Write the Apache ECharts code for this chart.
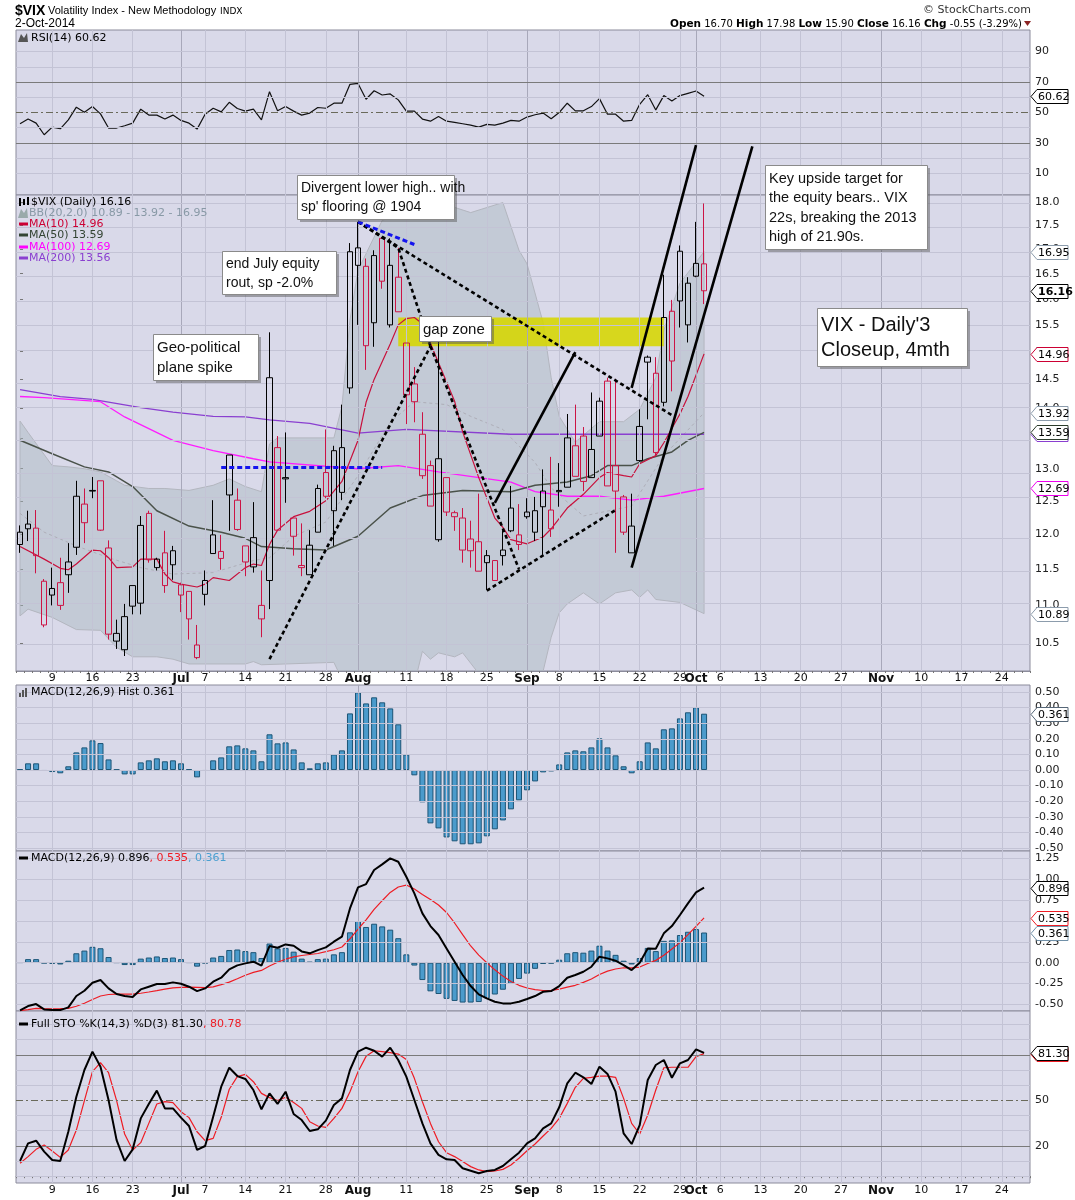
<!DOCTYPE html>
<html><head><meta charset="utf-8">
<script src="https://cdn.jsdelivr.net/npm/echarts@6/dist/echarts.min.js"></script>
<style>html,body{margin:0;padding:0;background:#fff}#c{width:1075px;height:1200px}</style>
</head><body><div id="c"></div>
<script>
// ===================== DATA =====================
// trading-day categories (Jun 3 - Nov 28 2014, exchange holidays removed)
const holidays = ['7/4', '9/1', '11/27'];
const dates = [];
for (let d = new Date(2014, 5, 3); d <= new Date(2014, 10, 28); d.setDate(d.getDate() + 1)) {
  const k = (d.getMonth() + 1) + '/' + d.getDate();
  if (d.getDay() % 6 !== 0 && holidays.indexOf(k) < 0) dates.push(k);
}
const xTickLabels = [['6/9','9'],['6/16','16'],['6/23','23'],['7/1','Jul'],['7/7','7'],['7/14','14'],['7/21','21'],['7/28','28'],['8/1','Aug'],['8/11','11'],['8/18','18'],['8/25','25'],['9/2','Sep'],['9/8','8'],['9/15','15'],['9/22','22'],['9/29','29'],['10/1','Oct'],['10/6','6'],['10/13','13'],['10/20','20'],['10/27','27'],['11/3','Nov'],['11/10','10'],['11/17','17'],['11/24','24']];
const monthNames = ['Jul', 'Aug', 'Sep', 'Oct', 'Nov'];

const opens = [12.03,12.15,12.09,11.33,11.23,11.31,11.42,11.81,12.45,12.66, 12.81,11.80,10.53,10.42,11.27,11.03,12.31,11.52,11.73,11.76, 11.28,11.19,10.48,11.15,11.72,11.75,13.22,12.51,11.60,11.53, 10.82,11.34,13.34,12.86,11.97,11.55,11.42,12.03,12.94,12.35, 12.63,14.35,16.67,16.65,15.54,17.23,15.50,16.43,15.16,14.42, 13.56,13.05,11.92,12.86,12.26,12.24,11.93,11.89,11.59,11.34, 11.69,12.39,11.85,12.33,12.03,12.41,12.36,12.66,12.71,13.37, 13.53,12.86,13.53,14.47,13.05,12.56,11.73,13.13,14.81,14.61, 14.10,15.76,16.96,15.50,16.45,16.70];
const highs = [12.13,12.35,12.36,11.36,11.52,11.66,11.87,12.81,12.69,12.87, 12.81,11.91,10.81,11.02,11.27,12.27,12.35,11.66,12.05,11.83, 11.31,11.19,10.74,11.48,12.51,11.99,13.22,12.69,11.83,12.48, 11.48,15.36,13.53,13.59,12.24,12.16,12.06,12.75,13.64,13.37, 14.06,17.13,17.58,16.81,16.98,17.25,17.23,17.03,15.16,14.72, 13.93,13.13,15.22,12.86,12.35,12.39,12.20,12.61,11.77,11.62, 12.06,12.73,12.45,12.54,12.56,12.99,13.19,13.09,13.90,14.06, 13.68,14.27,14.18,14.53,14.51,12.59,12.61,13.98,14.93,14.90, 16.48,15.98,17.08,16.43,17.58,17.98];
const lows = [11.73,11.90,11.44,10.71,11.00,10.94,11.17,11.70,11.87,12.54, 12.05,10.55,10.43,10.34,10.88,10.88,11.59,11.48,11.17,11.35, 10.91,10.55,10.30,11.00,11.72,11.49,12.05,12.05,11.40,11.45, 10.58,10.95,12.05,12.47,11.69,11.40,11.42,12.03,12.54,11.83, 12.51,14.25,15.50,14.67,15.09,16.20,15.45,15.75,13.73,13.76, 12.84,12.42,11.89,12.27,12.05,11.59,11.52,11.47,11.21,11.34, 11.55,12.03,11.77,12.23,11.90,11.70,11.96,12.41,12.71,12.88, 12.65,12.86,13.53,12.73,11.73,11.99,11.73,13.11,13.81,13.21, 14.03,14.29,15.45,15.17,16.43,15.90];
const closes = [11.85,12.08,11.69,10.74,11.14,11.00,11.60,12.57,12.17,12.65, 12.06,10.62,10.63,10.85,10.99,12.13,11.63,11.64,11.27,11.56, 11.14,10.82,10.32,11.34,11.99,11.65,12.59,12.07,11.83,11.95, 11.00,14.53,12.06,12.84,12.24,11.52,11.84,12.69,12.57,13.29, 13.34,16.95,17.03,15.11,16.87,16.35,16.67,15.75,14.23,14.11, 12.89,12.42,13.16,12.33,12.32,11.77,11.76,11.47,11.69,11.62, 11.77,12.05,11.99,12.26,12.35,12.65,12.08,12.64,13.50,12.88, 12.80,13.31,14.12,12.73,12.65,12.03,12.12,13.69,14.90,13.26, 15.64,14.83,15.96,16.31,16.71,16.16];

const ma10 = [['6/3',11.82],['6/6',11.64],['6/10',11.51],['6/11',11.49],['6/12',11.57],['6/16',11.77],['6/17',11.76],['6/18',11.66],['6/19',11.52],['6/23',11.53],['6/24',11.64],['6/26',11.64],['6/27',11.43],['6/30',11.32],['7/1',11.29],['7/3',11.25],['7/7',11.29],['7/8',11.38],['7/10',11.34],['7/14',11.52],['7/15',11.57],['7/16',11.55],['7/17',11.85],['7/18',12.06],['7/22',12.26],['7/24',12.34],['7/28',12.50],['7/30',12.80],['8/1',13.46],['8/4',14.10],['8/5',14.50],['8/7',15.14],['8/8',15.50],['8/11',15.62],['8/12',15.64],['8/13',15.52],['8/15',14.80],['8/19',14.12],['8/20',13.60],['8/22',12.86],['8/26',12.24],['8/27',12.10],['8/28',11.92],['9/2',11.86],['9/4',11.96],['9/5',12.08],['9/9',12.39],['9/11',12.60],['9/15',12.86],['9/16',12.94],['9/18',12.89],['9/19',12.87],['9/22',13.08],['9/24',13.21],['9/25',13.42],['9/29',13.90],['9/30',14.20],['10/2',14.96]];
const ma50 = [['6/3',13.46],['6/9',13.24],['6/13',13.03],['6/18',12.95],['6/23',12.72],['6/26',12.35],['7/2',12.12],['7/9',12.03],['7/14',11.94],['7/16',11.82],['7/22',11.79],['7/28',11.77],['8/1',11.97],['8/7',12.39],['8/13',12.58],['8/20',12.66],['8/28',12.64],['9/3',12.74],['9/9',12.79],['9/12',12.89],['9/16',13.05],['9/19',13.05],['9/23',13.16],['9/26',13.27],['9/30',13.46],['10/2',13.59]];
const ma100 = [['6/3',14.20],['6/6',14.18],['6/17',14.11],['6/20',13.85],['6/30',13.46],['7/8',13.29],['7/15',13.16],['7/17',13.11],['8/1',13.00],['8/8',13.05],['8/15',12.95],['8/28',12.79],['9/3',12.64],['9/9',12.57],['9/15',12.57],['9/19',12.51],['9/25',12.57],['10/2',12.69]];
const ma200 = [['6/3',14.32],['6/10',14.20],['6/16',14.15],['6/24',14.01],['6/30',13.93],['7/8',13.86],['7/14',13.85],['7/17',13.80],['7/24',13.74],['8/1',13.58],['8/11',13.64],['8/28',13.56],['9/15',13.56],['10/2',13.56]];
const bbMid = [['6/3',12.31],['6/6',12.03],['6/12',11.83],['6/18',11.66],['6/24',11.52],['6/30',11.43],['7/8',11.45],['7/15',11.62],['7/17',11.66],['7/22',11.97],['7/28',12.18],['8/1',12.89],['8/7',13.76],['8/12',14.11],['8/18',14.06],['8/21',13.86],['8/27',13.64],['9/3',13.10],['9/5',12.70],['9/11',12.27],['9/19',12.42],['9/25',13.21],['10/2',13.92]];
const bbUpper = [['6/3',13.78],['6/4',13.59],['6/9',13.05],['6/11',13.03],['6/13',13.00],['6/17',12.95],['6/19',12.81],['6/20',12.74],['6/25',12.69],['6/27',12.69],['7/2',12.66],['7/8',12.74],['7/10',12.84],['7/14',12.72],['7/16',12.64],['7/17',13.40],['7/18',13.50],['7/29',13.50],['7/30',14.03],['7/31',15.59],['8/1',16.57],['8/6',17.61],['8/11',17.80],['8/18',17.95],['8/21',17.78],['8/27',18.00],['8/29',16.98],['9/2',16.70],['9/4',15.54],['9/5',14.53],['9/8',13.86],['9/10',13.43],['9/15',13.77],['9/18',13.77],['9/22',13.98],['9/24',14.53],['9/25',15.40],['9/29',16.31],['10/2',16.95]];
const bbLower = [['6/3',10.86],['6/4',10.95],['6/9',10.84],['6/12',10.68],['6/17',10.67],['6/19',10.45],['6/23',10.33],['6/26',10.33],['6/30',10.30],['7/2',10.24],['7/14',10.24],['7/15',10.27],['7/16',10.23],['7/29',10.26],['7/30',10.05],['7/31',9.70],['8/5',9.40],['8/11',9.60],['8/13',10.40],['8/14',10.30],['8/15',10.38],['8/19',10.33],['8/20',10.38],['8/22',10.12],['8/25',9.90],['8/28',9.80],['9/2',9.90],['9/4',10.15],['9/5',10.58],['9/8',10.90],['9/9',11.02],['9/11',11.17],['9/15',11.02],['9/17',11.17],['9/19',11.21],['9/22',11.11],['9/23',11.21],['9/24',11.08],['9/29',11.04],['10/2',10.89]];

const rsi = [42.6,45.7,43.0,35.4,40.4,39.3,45.2,53.5,50.2,53.9, 49.1,39.8,39.8,41.3,43.0,52.2,48.3,48.3,45.7,48.3, 44.8,43.0,39.1,48.9,52.8,50.4,56.7,52.6,50.9,52.2, 45.2,63.7,51.1,53.9,50.9,48.3,49.6,53.3,52.8,56.1, 56.1,68.5,69.1,58.7,64.3,61.5,62.2,58.3,50.9,50.9, 45.7,44.3,47.4,44.3,43.5,42.6,41.7,40.4,42.2,41.7, 43.0,44.8,44.3,47.0,48.5,49.6,45.9,50.0,56.1,51.1, 51.1,53.9,59.1,48.9,48.9,44.3,44.8,55.4,61.7,51.7, 61.1,57.6,61.1,62.6,64.1,60.62];
const macdHist = [0.004,0.043,0.043,-0.006,-0.013,-0.021,0.024,0.113,0.145,0.190, 0.173,0.068,0.003,-0.028,-0.028,0.049,0.062,0.075,0.056,0.062, 0.043,0.004,-0.047,-0.006,0.062,0.081,0.152,0.158,0.139,0.126, 0.056,0.229,0.171,0.177,0.132,0.049,0.011,0.043,0.049,0.100, 0.126,0.363,0.498,0.427,0.466,0.434,0.395,0.293,0.100,-0.034, -0.207,-0.342,-0.374,-0.432,-0.457,-0.476,-0.476,-0.470,-0.425,-0.380, -0.323,-0.252,-0.194,-0.130,-0.073,-0.015,-0.009,0.036,0.113,0.126, 0.120,0.145,0.203,0.145,0.094,0.024,-0.021,0.056,0.177,0.139, 0.261,0.267,0.331,0.370,0.402,0.361];
const macdLine = [-0.570,-0.518,-0.494,-0.558,-0.566,-0.566,-0.534,-0.398,-0.335,-0.239, -0.207,-0.307,-0.374,-0.398,-0.410,-0.319,-0.287,-0.255,-0.255,-0.235, -0.251,-0.287,-0.339,-0.307,-0.227,-0.179,-0.080,-0.032,-0.008,0.012, -0.036,0.199,0.179,0.219,0.203,0.135,0.112,0.151,0.183,0.251, 0.311,0.649,0.900,0.940,1.108,1.175,1.247,1.207,1.028,0.829, 0.590,0.438,0.331,0.171,0.012,-0.147,-0.279,-0.378,-0.426,-0.466, -0.486,-0.486,-0.466,-0.434,-0.398,-0.347,-0.339,-0.279,-0.179,-0.147, -0.108,-0.048,0.072,0.052,0.024,-0.028,-0.088,0.000,0.171,0.167, 0.351,0.438,0.570,0.709,0.841,0.896];
const macdSignal = [-0.572,-0.561,-0.545,-0.548,-0.550,-0.548,-0.545,-0.520,-0.485,-0.440, -0.398,-0.380,-0.375,-0.375,-0.375,-0.365,-0.350,-0.333,-0.315,-0.300, -0.294,-0.292,-0.294,-0.297,-0.289,-0.262,-0.232,-0.192,-0.150,-0.116, -0.092,-0.040,0.005,0.042,0.070,0.086,0.098,0.110,0.132,0.155, 0.188,0.286,0.402,0.513,0.638,0.741,0.840,0.905,0.928,0.880, 0.815,0.755,0.690,0.600,0.475,0.335,0.200,0.090,0.000,-0.085, -0.160,-0.225,-0.270,-0.302,-0.322,-0.332,-0.330,-0.315,-0.292,-0.270, -0.235,-0.195,-0.140,-0.100,-0.075,-0.060,-0.062,-0.052,-0.010,0.028, 0.090,0.165,0.240,0.335,0.435,0.535];
const stoK = [10.0,21.6,23.4,16.2,10.7,10.0,29.3,52.4,70.0,82.1, 72.2,50.2,23.8,10.0,17.7,38.1,47.6,56.4,44.7,44.7, 38.6,33.1,17.3,19.9,39.2,59.0,71.5,66.0,64.1,56.8, 44.1,54.6,47.6,55.7,41.0,37.0,29.8,30.9,36.6,46.9, 51.3,70.0,82.1,84.7,82.7,78.8,84.7,76.6,65.6,50.2, 34.8,21.6,14.0,11.1,10.7,5.2,3.6,1.9,3.4,4.1, 6.7,11.1,15.5,21.6,24.9,31.5,34.8,45.4,61.2,68.2, 65.2,60.8,72.2,67.4,55.7,28.2,21.2,33.7,63.4,73.3, 76.6,64.9,74.4,76.6,83.6,81.30];
const stoD = [8.5,12.9,17.7,20.5,16.6,12.4,17.3,30.4,49.8,68.9, 74.8,68.2,49.8,27.8,17.3,22.1,34.8,47.6,49.1,48.5, 42.5,38.6,29.3,23.4,24.9,38.8,57.3,65.6,67.1,62.3, 54.6,51.8,49.8,52.0,48.5,44.7,35.9,33.1,32.2,38.1, 44.7,55.7,68.9,79.0,82.7,82.1,81.4,80.5,77.0,64.5, 49.1,34.8,22.7,15.5,12.9,9.6,6.3,4.1,3.0,3.4, 4.5,7.4,11.8,16.8,21.2,26.5,31.5,38.1,48.0,58.6, 64.5,65.2,66.0,66.0,65.2,51.3,34.8,27.8,40.3,56.8, 71.5,71.8,71.8,71.8,78.8,80.78];

// axis tick labels
const priceTicks = [10.5,11.0,11.5,12.0,12.5,13.0,13.5,14.0,14.5,15.0,15.5,16.0,16.5,17.0,17.5,18.0];
const rsiTicks = [10,30,50,70,90];
const rsiGrid = [10,20,40,60,80,90];
const histTicks = [-0.5,-0.4,-0.3,-0.2,-0.1,0,0.1,0.2,0.3,0.4,0.5];
const macdTicks = [-0.5,-0.25,0,0.25,0.5,0.75,1.0,1.25];
const stoTicks = [20,50,80];
const stoGrid = [0,10,30,40,60,70,90,100];

// hand-drawn annotations (date, price)
const gapZone = [['8/8', 15.64], ['9/25', 15.10]];
const dashedLines = [
  [['7/17',10.3],['8/14',15.1]],
  [['8/14',15.1],['8/29',11.5]],
  [['8/1',17.58],['8/8',17.03],['8/14',15.1]],
  [['8/1',17.58],['9/26',13.88]],
  [['8/25',11.2],['9/17',12.36]]
];
const blueLines = [[['8/1',17.58],['8/12',17.1]], [['7/9',13.02],['8/6',13.02]]];
const solidLines = [[['8/26',12.47],['9/10',14.99]], [['9/19',14.35],['10/1',19.31]], [['9/19',11.52],['10/10',19.28]]];

const notes = [
  {box:[297,175,157,44], fs:14, lh:19, lines:['Divergent lower high.. with', "sp' flooring @ 1904"]},
  {box:[222,251,114,43], fs:14, lh:19, lines:['end July equity', 'rout, sp -2.0%']},
  {box:[153,334,105,46], fs:15, lh:20, lines:['Geo-political', 'plane spike']},
  {box:[419,316,72,25], fs:15, lh:20, lines:['gap zone']},
  {box:[765,165,162,84], fs:14.5, lh:19.3, lines:['Key upside target for', 'the equity bears.. VIX', '22s, breaking the 2013', 'high of 21.90s.']},
  {box:[817,308,150,58], fs:20, lh:25, lines:["VIX - Daily'3", 'Closeup, 4mth']}
];

// ===================== CHART =====================
const ln = Math.log;
const idx = d => dates.indexOf(d);
const last = a => { const v = a[a.length - 1]; return Array.isArray(v) ? v[1] : v; };
const N = dates.length;
const tickMap = {}; xTickLabels.forEach(([d, l]) => tickMap[d] = l);
const FONT = '"DejaVu Sans", Verdana, sans-serif';
const ANN = '"Liberation Sans", Arial, sans-serif';

const gridDefs = [{top:30,height:165},{top:195,height:476},{top:685,height:166},{top:851,height:160},{top:1011,height:172}];
const grid = gridDefs.map(g => ({left:16, right:45, top:g.top, height:g.height, show:true, backgroundColor:'#d9d9e9', borderColor:'#8b8b9b', borderWidth:1}));

const xAxis = [];
for (let k = 0; k < 5; k++) {
  const showLab = (k === 1 || k === 4);
  xAxis.push({type:'category', gridIndex:k, data:dates, boundaryGap:true, show:true,
    axisLine:{show:showLab, lineStyle:{color:'#8b8b9b'}},
    axisTick:{show:showLab, interval:0, length:2, lineStyle:{color:'#777'}},
    axisLabel:{show:showLab, interval:(i, v) => tickMap[v] !== undefined,
      formatter: v => monthNames.indexOf(tickMap[v]) >= 0 ? '{b|' + tickMap[v] + '}' : tickMap[v],
      rich:{b:{fontWeight:'bold', fontSize:12, fontFamily:FONT, color:'#111'}},
      fontSize:11, fontFamily:FONT, color:'#111', margin:2},
    splitLine:{show:false}});
}
for (let k = 0; k < 5; k++) xAxis.push({type:'value', gridIndex:k, min:-0.5, max:N - 0.5, show:false});

function yAx(k, min, max, ticks, fmt) {
  return {type:'value', gridIndex:k, position:'right', min, max, scale:true,
    axisLine:{show:false}, splitLine:{show:false},
    axisTick:{show:true, customValues:ticks, length:3, lineStyle:{color:'#777'}},
    axisLabel:{show:true, customValues:ticks, formatter:fmt, fontSize:11, fontFamily:FONT, color:'#222', margin:5}};
}
const yAxis = [
  yAx(0, -4.2, 104.2, rsiTicks, v => String(Math.round(v))),
  yAx(1, 2.3177, 2.8996, priceTicks.map(ln), v => Math.exp(v).toFixed(1)),
  yAx(2, -0.519, 0.545, histTicks, v => v.toFixed(2)),
  yAx(3, -0.577, 1.335, macdTicks, v => v.toFixed(2)),
  yAx(4, -4.5, 108.9, stoTicks, v => String(Math.round(v)))
];

const series = [];
const LIGHT = '#c3c3d5', MONTH = '#a8a8ba', DARK = '#7a7a7a';
function gridLines(k, hl) {
  const data = xTickLabels.map(([d, l]) => ({xAxis: idx(d), lineStyle:{color: monthNames.indexOf(l) >= 0 ? MONTH : LIGHT, width:1, type:'solid'}}));
  hl.forEach(h => data.push({yAxis: h[0], lineStyle:{color:h[1] || LIGHT, width:1, type:h[2] || 'solid'}}));
  series.push({type:'line', xAxisIndex:5 + k, yAxisIndex:k, data:[], z:1, silent:true, animation:false,
    markLine:{silent:true, symbol:['none','none'], label:{show:false}, animation:false, data}});
}
const DASHDOT = [7,3,2,3];
gridLines(0, rsiGrid.map(v => [v]).concat([[30, DARK], [70, DARK], [50, '#6a6a5a', DASHDOT]]));
gridLines(1, priceTicks.map(p => [ln(p)]));
gridLines(2, histTicks.map(v => [v]));
gridLines(3, macdTicks.map(v => [v]));
gridLines(4, stoGrid.map(v => [v]).concat([[20, DARK], [80, DARK], [50, '#6a6a5a', DASHDOT]]));

// Bollinger band area
series.push({type:'custom', xAxisIndex:6, yAxisIndex:1, clip:true, z:2, silent:true, animation:false, data:[[0, 2.5]],
  renderItem:(p, api) => {
    const pts = [];
    bbUpper.forEach(([d, v]) => pts.push(api.coord([idx(d), ln(v)])));
    bbLower.slice().reverse().forEach(([d, v]) => pts.push(api.coord([idx(d), ln(v)])));
    return {type:'polygon', shape:{points:pts}, style:{fill:'rgba(168,184,190,0.45)', stroke:'#b3b6bf', lineWidth:1}};
  }});
// gap zone
series.push({type:'custom', xAxisIndex:6, yAxisIndex:1, clip:true, z:3, silent:true, animation:false, data:[[0, 2.5]],
  renderItem:(p, api) => {
    const a = api.coord([idx(gapZone[0][0]), ln(gapZone[0][1])]);
    const b = api.coord([idx(gapZone[1][0]), ln(gapZone[1][1])]);
    return {type:'rect', shape:{x:a[0], y:a[1], width:b[0] - a[0], height:b[1] - a[1]}, style:{fill:'rgba(214,214,0,0.88)'}};
  }});
function maLine(arr, color, width, type) {
  series.push({type:'line', xAxisIndex:6, yAxisIndex:1, data:arr.map(([d, v]) => [idx(d), ln(v)]), symbol:'none', z:4,
    silent:true, animation:false, lineStyle:{color, width, type:type || 'solid'}});
}
maLine(bbMid, '#aeaeb8', 1, [3,3]);
maLine(ma200, '#8a3fd0', 1.3);
maLine(ma100, '#ff1cff', 1.3);
maLine(ma50, '#4a524a', 1.5);
maLine(ma10, '#c8103c', 1.2);

// candles
const candleData = opens.map((o, i) => {
  const c = closes[i];
  const col = (i === 0 || c >= closes[i - 1]) ? '#000000' : '#cc1445';
  return {value:[ln(o), ln(c), ln(lows[i]), ln(highs[i])],
    itemStyle:{color:'rgba(0,0,0,0)', color0:col, borderColor:col, borderColor0:col, borderColorDoji:col, borderWidth:1}};
});
series.push({type:'candlestick', xAxisIndex:1, yAxisIndex:1, data:candleData, barWidth:6, z:5, silent:true, animation:false});

// trendlines
function trend(pts, style) {
  series.push({type:'line', xAxisIndex:6, yAxisIndex:1, data:pts.map(([d, v]) => [idx(d), ln(v)]), symbol:'none', clip:false,
    z:8, silent:true, animation:false, lineStyle:style});
}
dashedLines.forEach(l => trend(l, {color:'#000', width:2.6, type:[4,3]}));
blueLines.forEach(l => trend(l, {color:'#1414ee', width:3, type:[5,3]}));
solidLines.forEach(l => trend(l, {color:'#000', width:2.6}));

// indicators
series.push({type:'line', xAxisIndex:0, yAxisIndex:0, data:rsi, symbol:'none', z:4, silent:true, animation:false, lineStyle:{color:'#111', width:1.2}});
const barStyle = {color:'#4b9bcc', borderColor:'#1c5576', borderWidth:1};
series.push({type:'bar', xAxisIndex:2, yAxisIndex:2, data:macdHist, barWidth:6, z:4, silent:true, animation:false, itemStyle:barStyle});
series.push({type:'bar', xAxisIndex:3, yAxisIndex:3, data:macdHist, barWidth:6, z:3, silent:true, animation:false, itemStyle:barStyle});
series.push({type:'line', xAxisIndex:3, yAxisIndex:3, data:macdSignal, symbol:'none', z:4, silent:true, animation:false, lineStyle:{color:'#ee1c24', width:1.2}});
series.push({type:'line', xAxisIndex:3, yAxisIndex:3, data:macdLine, symbol:'none', z:5, silent:true, animation:false, lineStyle:{color:'#000', width:2}});
series.push({type:'line', xAxisIndex:4, yAxisIndex:4, data:stoD, symbol:'none', z:4, silent:true, animation:false, lineStyle:{color:'#ee1c24', width:1.2}});
series.push({type:'line', xAxisIndex:4, yAxisIndex:4, data:stoK, symbol:'none', z:5, silent:true, animation:false, lineStyle:{color:'#000', width:2}});

// right-edge value tags
function tags(k, items) {
  series.push({type:'custom', xAxisIndex:5 + k, yAxisIndex:k, clip:false, z:20, silent:true, animation:false,
    data:items.map((it, i) => [N - 0.5, it.y, i]),
    renderItem:(p, api) => {
      const it = items[api.value(2)];
      const c = api.coord([api.value(0), api.value(1)]);
      const x = c[0] + 1, y = Math.round(c[1]) + 0.5;
      return {type:'group', children:[
        {type:'polygon', shape:{points:[[x, y], [x + 6, y - 7], [x + 37, y - 7], [x + 37, y + 7], [x + 6, y + 7]]}, style:{fill:'#fff', stroke:it.c, lineWidth:1}},
        {type:'text', style:{text:it.t, x:x + 7, y:y + 0.5, verticalAlign:'middle', align:'left', font:(it.b ? 'bold ' : '') + '11px ' + FONT, fill:'#000'}}
      ]};
    }});
}
const GRAYTAG = '#8c9cac';
tags(0, [{y:last(rsi), t:last(rsi).toFixed(2), c:'#000'}]);
tags(1, [
  {y:ln(last(bbUpper)), t:last(bbUpper).toFixed(2), c:GRAYTAG},
  {y:ln(last(closes)), t:last(closes).toFixed(2), c:'#000', b:true},
  {y:ln(last(ma10)), t:last(ma10).toFixed(2), c:'#cc0033'},
  {y:ln(last(bbMid)), t:last(bbMid).toFixed(2), c:GRAYTAG},
  {y:ln(last(ma200)), t:last(ma200).toFixed(2), c:'#8a3fd0'},
  {y:ln(last(ma50)), t:last(ma50).toFixed(2), c:'#2c3c2c'},
  {y:ln(last(ma100)), t:last(ma100).toFixed(2), c:'#ee00ee'},
  {y:ln(last(bbLower)), t:last(bbLower).toFixed(2), c:GRAYTAG}
]);
tags(2, [{y:last(macdHist), t:last(macdHist).toFixed(3), c:'#556677'}]);
tags(3, [
  {y:last(macdLine), t:last(macdLine).toFixed(3), c:'#000'},
  {y:last(macdSignal), t:last(macdSignal).toFixed(3), c:'#ee1c24'},
  {y:last(macdHist), t:last(macdHist).toFixed(3), c:'#7090a8'}
]);
tags(4, [
  {y:last(stoD), t:last(stoD).toFixed(2), c:'#ee1c24'},
  {y:last(stoK), t:last(stoK).toFixed(2), c:'#000'}
]);

// ===================== TEXT / GRAPHICS =====================
const G = [];
function txt(x, y, text, font, fill, extra) {
  G.push({type:'text', x, y, z:100, silent:true, style:Object.assign({text, font, fill:fill || '#000', verticalAlign:'middle', align:'left'}, extra || {})});
}
function dash(x, y, color) { G.push({type:'rect', z:100, silent:true, shape:{x, y:y - 1.5, width:9, height:3}, style:{fill:color}}); }
const chg = last(closes) - closes[closes.length - 2];
txt(15, 11, '$VIX', 'bold 14px ' + ANN);
txt(48, 11, 'Volatility Index - New Methodology', '11px ' + ANN);
txt(220, 12, 'INDX', '9px ' + FONT);
txt(15, 24, '2-Oct-2014', '12px ' + ANN);
txt(1031, 10, '\u00A9 StockCharts.com', '11px ' + FONT, '#333', {align:'right'});
txt(1022, 24, '{b|Open} ' + last(opens).toFixed(2) + ' {b|High} ' + last(highs).toFixed(2) + ' {b|Low} ' + last(lows).toFixed(2) +
  ' {b|Close} ' + last(closes).toFixed(2) + ' {b|Chg} ' + chg.toFixed(2) + ' (' + (chg / closes[closes.length - 2] * 100).toFixed(2) + '%)',
  '10px ' + FONT, '#000', {align:'right', rich:{b:{fontWeight:'bold', fontSize:10.5, fontFamily:FONT, fill:'#000'}}});
G.push({type:'polygon', z:100, silent:true, shape:{points:[[1024, 21], [1031, 21], [1027.5, 26]]}, style:{fill:'#8b2424'}});

// panel legends
G.push({type:'polygon', z:100, silent:true, shape:{points:[[18, 42], [21, 34], [24, 38], [27, 33], [28, 42]]}, style:{fill:'#555'}});
txt(31, 38, 'RSI(14) ' + last(rsi).toFixed(2), '11px ' + FONT);
G.push({type:'rect', z:100, silent:true, shape:{x:19, y:198, width:2, height:8}, style:{fill:'#000'}});
G.push({type:'rect', z:100, silent:true, shape:{x:23, y:199, width:2, height:6}, style:{fill:'#000'}});
G.push({type:'rect', z:100, silent:true, shape:{x:27, y:197, width:2, height:8}, style:{fill:'#000'}});
txt(31, 202, '$VIX (Daily) ' + last(closes).toFixed(2), '11px ' + FONT);
G.push({type:'polygon', z:100, silent:true, shape:{points:[[18, 218], [21, 209], [24, 213], [27, 208], [28, 218]]}, style:{fill:'#9aa'}});
txt(29, 213, 'BB(20,2.0) ' + last(bbLower).toFixed(2) + ' - ' + last(bbMid).toFixed(2) + ' - ' + last(bbUpper).toFixed(2), '11px ' + FONT, '#8899a6');
dash(19, 224, '#cc0033'); txt(29, 224, 'MA(10) ' + last(ma10).toFixed(2), '11px ' + FONT, '#cc0033');
dash(19, 235, '#334433'); txt(29, 235, 'MA(50) ' + last(ma50).toFixed(2), '11px ' + FONT, '#334433');
dash(19, 247, '#ff00ff'); txt(29, 247, 'MA(100) ' + last(ma100).toFixed(2), '11px ' + FONT, '#ff00ff');
dash(19, 258, '#8a3fd0'); txt(29, 258, 'MA(200) ' + last(ma200).toFixed(2), '11px ' + FONT, '#8a3fd0');
[[19, 4], [22, 7], [25, 9]].forEach(([x, h]) => G.push({type:'rect', z:100, silent:true, shape:{x, y:697 - h, width:2, height:h}, style:{fill:'#555'}}));
txt(31, 692, 'MACD(12,26,9) Hist ' + last(macdHist).toFixed(3), '11px ' + FONT);
dash(19, 858, '#000');
txt(31, 858, 'MACD(12,26,9) ' + last(macdLine).toFixed(3) + '{r|, ' + last(macdSignal).toFixed(3) + '}{c|, ' + last(macdHist).toFixed(3) + '}', '11px ' + FONT, '#000',
  {rich:{r:{fill:'#ee1c24', fontSize:11, fontFamily:FONT}, c:{fill:'#4a9fd0', fontSize:11, fontFamily:FONT}}});
dash(19, 1024, '#000');
txt(31, 1024, 'Full STO %K(14,3) %D(3) ' + last(stoK).toFixed(2) + '{r|, ' + last(stoD).toFixed(2) + '}', '11px ' + FONT, '#000',
  {rich:{r:{fill:'#ee1c24', fontSize:11, fontFamily:FONT}}});

// annotation boxes
notes.forEach(n => {
  const [x, y, w, h] = n.box;
  G.push({type:'rect', z:98, silent:true, shape:{x:x + 3, y:y + 3, width:w, height:h}, style:{fill:'rgba(80,80,80,0.45)'}});
  G.push({type:'rect', z:99, silent:true, shape:{x:x + 0.5, y:y + 0.5, width:w, height:h}, style:{fill:'#fff', stroke:'#8a8a8a', lineWidth:1}});
  G.push({type:'text', z:101, silent:true, x:x + 4, y:y + (h - n.lh * n.lines.length) / 2 + 1,
    style:{text:n.lines.join('\n'), font:n.fs + 'px ' + ANN, lineHeight:n.lh, fill:'#111', verticalAlign:'top', align:'left'}});
});

const chart = echarts.init(document.getElementById('c'));
chart.setOption({animation:false, backgroundColor:'#ffffff', grid, xAxis, yAxis, series, graphic:{elements:G}});
</script>
</body></html>
